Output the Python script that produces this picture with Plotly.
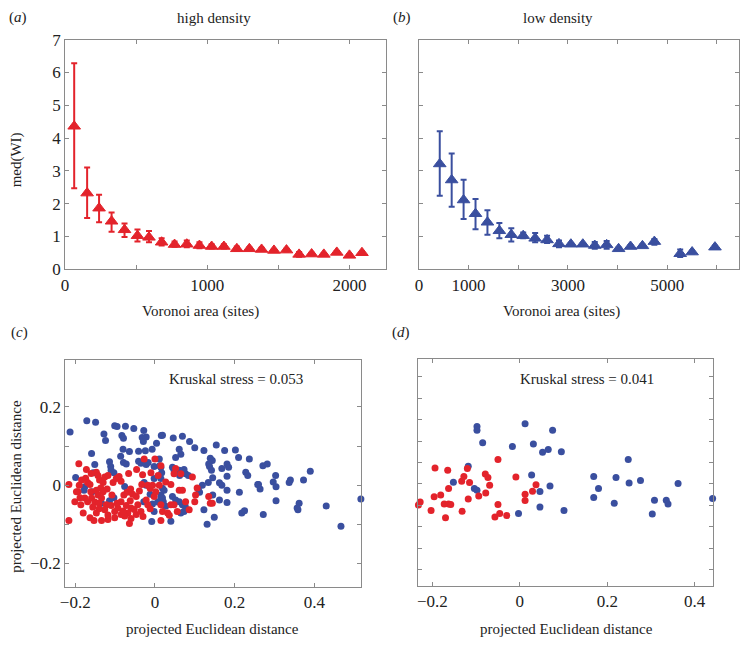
import plotly.graph_objects as go

RED = "#e3232b"
BLUE = "#3a4f9f"
FONT = "Liberation Serif, Times New Roman, Times, serif"

# ---------- panel (a): high density ----------
a_x = [64, 155, 239, 327, 418, 509, 590, 679, 770, 856, 945, 1031, 1117, 1208,
       1296, 1382, 1469, 1557, 1646, 1734, 1820, 1911, 2000, 2088]
a_y = [4.36, 2.32, 1.86, 1.46, 1.20, 1.02, 0.97, 0.82, 0.75, 0.76, 0.72, 0.69, 0.69, 0.62,
       0.62, 0.60, 0.57, 0.58, 0.45, 0.46, 0.45, 0.51, 0.42, 0.50]
a_hi = [6.28, 3.10, 2.27, 1.73, 1.39, 1.21, 1.16, 0.94, 0.84, 0.87, 0.82, 0.76, 0.76, 0.69,
        0.66, 0.65, 0.61, 0.62, 0.52, 0.50, 0.49, 0.55, 0.46, 0.54]
a_lo = [2.47, 1.56, 1.43, 1.14, 0.98, 0.84, 0.82, 0.72, 0.68, 0.67, 0.64, 0.63, 0.63, 0.56,
        0.58, 0.55, 0.53, 0.54, 0.38, 0.42, 0.41, 0.47, 0.38, 0.46]

# ---------- panel (b): low density ----------
b_x = [420, 660, 900, 1140, 1380, 1620, 1860, 2100, 2340, 2580, 2820, 3060, 3300, 3540,
       3780, 4020, 4260, 4500, 4740, 5260, 5500, 5960]
b_y = [3.21, 2.72, 2.11, 1.69, 1.43, 1.17, 1.05, 1.02, 0.94, 0.89, 0.77, 0.76, 0.76, 0.72,
       0.74, 0.62, 0.69, 0.71, 0.84, 0.47, 0.52, 0.67]
b_hi = [4.21, 3.53, 2.73, 2.14, 1.80, 1.41, 1.25, 1.12, 1.10, 1.02, 0.87, 0.80, 0.80, 0.83,
        0.86, 0.66, 0.73, 0.75, 0.92, 0.60, 0.56, 0.71]
b_lo = [2.24, 1.90, 1.53, 1.22, 1.05, 0.94, 0.84, 0.94, 0.82, 0.80, 0.67, 0.72, 0.72, 0.62,
        0.62, 0.58, 0.65, 0.67, 0.74, 0.37, 0.48, 0.63]

# ---------- panel (c): MDS, high density ----------
c_red_x = [-0.191, -0.216, -0.226, -0.216, -0.184, -0.174, -0.169, -0.163, -0.161, -0.147,
           -0.143, -0.139, -0.130, -0.136, -0.147, -0.130, -0.120, -0.105, -0.097, -0.090,
           -0.085, -0.126, -0.118, -0.176, -0.169, -0.159, -0.151, -0.143, -0.134, -0.122,
           -0.126, -0.147, -0.163, -0.153, -0.134, -0.118, -0.101, -0.093, -0.085, -0.078,
           -0.070, -0.061, -0.056, -0.047, -0.039, -0.033, -0.018, -0.012, -0.006, -0.031,
           -0.027, 0.000, 0.015, 0.008, -0.010, -0.043, -0.060, -0.068, -0.076, -0.060,
           -0.047, -0.085, -0.022, -0.002, 0.015, -0.035, -0.064, -0.101, -0.193, -0.180,
           -0.201, -0.197, 0.011, 0.002, -0.018,
           0.052, 0.048, 0.065, 0.094, 0.027, 0.040, 0.061, 0.069, 0.102, 0.100,
           0.106, 0.135, 0.139, 0.144, 0.019, 0.032, 0.036, 0.015, 0.040, 0.077,
           0.086, 0.056, 0.048,
           -0.110, -0.095, -0.072, -0.052, -0.140, -0.156, -0.186, -0.188, -0.118, -0.080,
           -0.030, -0.012, -0.066, -0.046, -0.160, -0.172, -0.190, -0.108, -0.062, -0.140]
c_red_y = [0.055, 0.002, -0.050, -0.090, 0.013, 0.018, 0.007, 0.002, -0.017, 0.033,
           0.025, 0.013, 0.007, -0.007, -0.013, -0.017, -0.010, 0.007, 0.017, 0.022,
           0.010, 0.021, 0.025, -0.033, -0.042, -0.033, -0.043, -0.025, -0.033, -0.050,
           -0.063, -0.071, -0.083, -0.090, -0.090, -0.088, -0.067, -0.058, -0.042, -0.025,
           -0.018, -0.010, -0.023, -0.029, -0.015, 0.002, 0.000, -0.008, 0.000, 0.027,
           0.067, 0.067, 0.050, 0.025, 0.032, -0.050, -0.058, -0.071, -0.079, -0.085,
           -0.075, -0.075, -0.038, -0.029, -0.050, -0.067, -0.098, -0.083, -0.017, -0.071,
           -0.042, -0.017, 0.000, -0.017, -0.050,
           0.043, 0.029, 0.029, 0.021, 0.008, 0.002, -0.013, -0.013, -0.025, -0.042,
           -0.007, -0.029, -0.046, -0.046, -0.067, -0.071, -0.077, -0.090, -0.050, -0.042,
           -0.063, -0.067, -0.050,
           -0.052, -0.046, -0.052, -0.062, -0.046, -0.056, -0.050, -0.032, -0.076, -0.066,
           -0.080, -0.060, 0.030, 0.040, 0.030, 0.040, 0.000, -0.025, -0.040, -0.060]

c_blue_x = [-0.213, -0.171, -0.149, -0.101, -0.095, -0.074, -0.053, -0.028, -0.128, -0.124,
            -0.083, -0.079, -0.032, -0.022, -0.029, 0.016, 0.004, -0.159, -0.080, -0.064,
            -0.041, -0.024, -0.007, -0.086, -0.079, -0.072, -0.041, -0.035, -0.022, -0.017,
            -0.002, 0.012, -0.151, -0.155, -0.114, -0.111, -0.110, -0.103, -0.199, -0.076,
            -0.176, -0.178, -0.158, -0.134, -0.114, -0.103, -0.027, -0.022, -0.002, -0.028,
            -0.012, -0.006, 0.007, 0.015, -0.002, -0.008,
            0.019, 0.046, 0.069, 0.087, 0.100, 0.123, 0.154, 0.175, 0.202, 0.210,
            0.237, 0.139, 0.144, 0.135, 0.137, 0.142, 0.168, 0.181, 0.185, 0.145,
            0.134, 0.162, 0.168, 0.181, 0.181, 0.212, 0.109, 0.112, 0.119, 0.145,
            0.162, 0.181, 0.123, 0.131, 0.218, 0.225, 0.228, 0.233, 0.258, 0.015,
            0.019, 0.023, 0.015, 0.019, 0.021, 0.011, 0.015, 0.017, 0.044, 0.048,
            0.056, 0.062, 0.069, 0.077, 0.084, 0.073, 0.061, 0.044, 0.052, 0.061,
            0.069, 0.076, 0.073, 0.065, 0.027, 0.040, 0.061, 0.065, 0.052, 0.149,
            0.271, 0.282, 0.303, 0.260, 0.264, 0.297, 0.304, 0.337, 0.340, 0.373,
            0.390, 0.304, 0.362, 0.359, 0.357, 0.430, 0.272, 0.467, 0.517]
c_blue_y = [0.136, 0.165, 0.161, 0.152, 0.150, 0.151, 0.145, 0.140, 0.131, 0.114,
            0.127, 0.120, 0.122, 0.123, 0.112, 0.127, 0.107, 0.081, 0.092, 0.086,
            0.087, 0.088, 0.092, 0.074, 0.058, 0.054, 0.061, 0.056, 0.053, 0.058,
            0.048, 0.050, 0.053, 0.032, 0.060, 0.048, 0.038, 0.032, 0.020, -0.003,
            -0.004, -0.013, -0.017, -0.046, -0.040, -0.032, 0.007, 0.000, 0.017, -0.042,
            -0.023, -0.048, -0.043, -0.033, -0.067, -0.093,
            0.128, 0.121, 0.125, 0.112, 0.096, 0.089, 0.103, 0.089, 0.090, 0.071,
            0.067, 0.069, 0.063, 0.054, 0.048, 0.038, 0.043, 0.054, 0.046, 0.019,
            0.007, 0.006, 0.000, -0.013, 0.023, -0.018, -0.010, -0.018, 0.000, -0.025,
            -0.038, -0.044, -0.063, -0.100, -0.071, -0.065, 0.033, 0.025, 0.002, 0.017,
            -0.008, -0.013, -0.025, -0.033, -0.042, 0.067, 0.046, 0.032, 0.046, 0.038,
            0.033, 0.025, 0.032, 0.029, 0.025, 0.040, 0.038, -0.029, -0.038, -0.042,
            -0.050, -0.054, -0.067, -0.071, -0.054, -0.092, 0.092, 0.079, 0.071, -0.082,
            0.050, 0.054, 0.025, 0.002, -0.010, 0.008, -0.004, 0.007, 0.013, 0.013,
            0.036, -0.040, -0.046, -0.063, -0.058, -0.053, -0.075, -0.105, -0.035]

# ---------- panel (d): MDS, low density ----------
d_red_x = [-0.232, -0.228, -0.203, -0.196, -0.194, -0.181, -0.173, -0.170, -0.165, -0.163,
           -0.163, -0.158, -0.133, -0.128, -0.132, -0.120, -0.115, -0.118, -0.094, -0.078,
           -0.079, -0.073, -0.069, -0.050, -0.050, -0.046, -0.057, -0.030, -0.009, 0.012,
           0.012, 0.029, 0.037]
d_red_y = [-0.049, -0.042, -0.062, -0.030, 0.037, -0.026, -0.047, -0.079, 0.032, -0.011,
           -0.047, -0.048, 0.006, 0.017, -0.064, 0.036, 0.003, -0.035, -0.028, -0.021,
           0.023, 0.015, -0.003, 0.057, -0.048, -0.069, -0.077, -0.074, 0.016, -0.024,
           -0.039, -0.017, -0.002]
d_blue_x = [-0.152, -0.118, -0.104, -0.098, -0.098, -0.098, -0.085, -0.017, -0.003, 0.012,
            0.027, 0.031, 0.046, 0.046, 0.052, 0.065, 0.075, 0.069, 0.095, 0.101,
            0.169, 0.169, 0.180, 0.216, 0.220, 0.248, 0.250, 0.276, 0.303, 0.308,
            0.335, 0.339, 0.362, 0.441]
d_blue_y = [0.004, 0.041, -0.011, -0.015, 0.134, 0.125, 0.096, 0.087, -0.069, 0.140,
            0.021, 0.093, -0.018, -0.054, 0.074, 0.080, 0.125, -0.005, 0.075, -0.062,
            0.017, -0.032, -0.011, -0.045, 0.015, 0.057, 0.002, 0.008, -0.070, -0.038,
            -0.038, -0.047, 0.001, -0.034]

W, H = 741, 646


def px(v):
    return v / W


def py(v):
    return 1 - v / H


fig = go.Figure()


def tri_trace(x, y, hi, lo, color, xa, ya):
    return go.Scatter(
        x=x, y=y, mode="markers", xaxis=xa, yaxis=ya, cliponaxis=False,
        marker=dict(symbol="triangle-up", size=11, color=color,
                    line=dict(width=1, color=color)),
        error_y=dict(type="data", symmetric=False,
                     array=[h - v for h, v in zip(hi, y)],
                     arrayminus=[v - l for l, v in zip(lo, y)],
                     color=color, thickness=2, width=3),
        showlegend=False, hoverinfo="skip")


fig.add_trace(tri_trace(a_x, a_y, a_hi, a_lo, RED, "x", "y"))
fig.add_trace(tri_trace(b_x, b_y, b_hi, b_lo, BLUE, "x2", "y2"))


def dots(x, y, color, xa, ya):
    return go.Scatter(x=x, y=y, mode="markers", xaxis=xa, yaxis=ya, cliponaxis=False,
                      marker=dict(size=7, color=color, line=dict(width=0)),
                      showlegend=False, hoverinfo="skip")


fig.add_trace(dots(c_blue_x, c_blue_y, BLUE, "x3", "y3"))
fig.add_trace(dots(c_red_x, c_red_y, RED, "x3", "y3"))
fig.add_trace(dots(d_blue_x, d_blue_y, BLUE, "x4", "y4"))
fig.add_trace(dots(d_red_x, d_red_y, RED, "x4", "y4"))

AX = dict(showline=True, mirror="ticks", linecolor="#8a8a8a", linewidth=1,
          ticks="inside", ticklen=4, tickcolor="#8a8a8a", tickwidth=1,
          showgrid=False, zeroline=False,
          tickfont=dict(family=FONT, size=17, color="#222"))

MINUS = "\u2212"

fig.update_layout(
    width=W, height=H, margin=dict(l=0, r=0, t=0, b=0),
    paper_bgcolor="white", plot_bgcolor="white",
    font=dict(family=FONT),
    xaxis=dict(AX, domain=[px(60.5), px(384)], range=[0, 2260], anchor="y",
               tickvals=[0, 500, 1000, 1500, 2000], ticktext=["0", "", "1000", "", "2000"]),
    yaxis=dict(AX, domain=[py(268), py(31.7)], range=[0, 7], anchor="x",
               tickvals=[0, 1, 2, 3, 4, 5, 6, 7]),
    xaxis2=dict(AX, domain=[px(416.7), px(739.3)], range=[0, 6450], anchor="y2",
                tickvals=[0, 1000, 2000, 3000, 4000, 5000, 6000],
                ticktext=["0", "1000", "", "3000", "", "5000", ""]),
    yaxis2=dict(AX, domain=[py(268), py(31.7)], range=[0, 7], anchor="x2",
                tickvals=[0, 1, 2, 3, 4, 5, 6, 7], showticklabels=False),
    xaxis3=dict(AX, domain=[px(60.7), px(358.3)], range=[-0.225, 0.517], anchor="y3",
                tickvals=[-0.2, 0, 0.2, 0.4],
                ticktext=[MINUS + "0.2", "0", "0.2", "0.4"]),
    yaxis3=dict(AX, domain=[py(595), py(361.7)], range=[-0.259, 0.32], anchor="x3",
                tickvals=[-0.2, -0.1, 0, 0.1, 0.2],
                ticktext=[MINUS + "0.2", "", "0", "", "0.2"]),
    xaxis4=dict(AX, domain=[px(416), px(713.3)], range=[-0.2325, 0.443], anchor="y4",
                tickvals=[-0.2, 0, 0.2, 0.4],
                ticktext=[MINUS + "0.2", "0", "0.2", "0.4"]),
    yaxis4=dict(AX, domain=[py(594), py(360.7)], range=[-0.237, 0.291], anchor="x4",
                tickvals=[-0.2, -0.15, -0.1, -0.05, 0, 0.05, 0.1, 0.15, 0.2, 0.25],
                showticklabels=False),
)

TF = dict(family=FONT, size=15, color="#222")


def note(text, x, y, xanchor="center", angle=0):
    fig.add_annotation(text=text, x=px(x), y=py(y), xref="paper", yref="paper",
                       xanchor=xanchor, yanchor="middle", showarrow=False,
                       font=TF, textangle=angle)


note("(<i>a</i>)", 2, 9, xanchor="left")
note("high density", 210.7, 9)
note("(<i>b</i>)", 389, 9, xanchor="left")
note("low density", 556.7, 9)
note("med(WI)", 12, 155, angle=-90)
note("Voronoi area (sites)", 196.7, 311.7)
note("Voronoi area (sites)", 560, 311.7)
note("(<i>c</i>)", 4, 333, xanchor="left")
note("(<i>d</i>)", 388, 333, xanchor="left")
note("Kruskal stress = 0.053", 233, 381.7)
note("Kruskal stress = 0.041", 585.8, 380.7)
note("projected Euclidean distance", 11.7, 491.7, angle=-90)
note("projected Euclidean distance", 209.3, 638.3)
note("projected Euclidean distance", 565, 638.3)

fig.write_html(
    "out.html",
    config={"displayModeBar": False, "staticPlot": True},
    post_script="document.body.style.margin='0';document.body.style.overflow='hidden';",
)
